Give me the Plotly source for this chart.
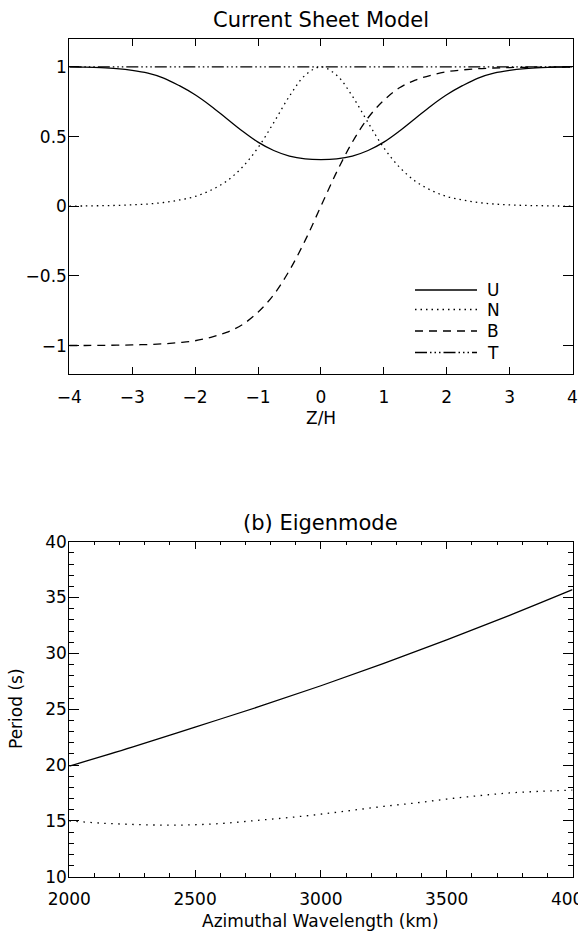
import plotly.graph_objects as go

W, H = 578, 933
FONT = "DejaVu Sans"

# ---------------- Panel (a): Current Sheet Model ----------------
z = [-4, -3.75, -3.5, -3.25, -3, -2.75, -2.5, -2.25, -2, -1.75, -1.5, -1.25, -1, -0.75, -0.5, -0.25, 0,
     0.25, 0.5, 0.75, 1, 1.25, 1.5, 1.75, 2, 2.25, 2.5, 2.75, 3, 3.25, 3.5, 3.75, 4]
U = [1.0, 0.998, 0.994, 0.987, 0.975, 0.955, 0.92, 0.865, 0.80, 0.72, 0.63, 0.54, 0.46, 0.40, 0.36, 0.34, 0.335,
     0.34, 0.36, 0.40, 0.46, 0.54, 0.63, 0.72, 0.80, 0.865, 0.92, 0.955, 0.975, 0.987, 0.994, 0.998, 1.0]
N = [0.001, 0.002, 0.004, 0.006, 0.01, 0.016, 0.027, 0.045, 0.07, 0.115, 0.18, 0.28, 0.42, 0.60, 0.79, 0.94, 1.0,
     0.94, 0.79, 0.60, 0.42, 0.28, 0.18, 0.115, 0.07, 0.045, 0.027, 0.016, 0.01, 0.006, 0.004, 0.002, 0.001]
B = [-0.999, -0.999, -0.998, -0.997, -0.995, -0.992, -0.987, -0.978, -0.965, -0.94, -0.905, -0.85, -0.76, -0.635, -0.46, -0.245, 0.0,
     0.245, 0.46, 0.635, 0.76, 0.85, 0.905, 0.94, 0.965, 0.978, 0.987, 0.992, 0.995, 0.997, 0.998, 0.999, 0.999]
T = [1.0] * len(z)
series_names = ["U", "N", "B", "T"]
xticks_a = [-4, -3, -2, -1, 0, 1, 2, 3, 4]
yticks_a = [-1, -0.5, 0, 0.5, 1]

# ---------------- Panel (b): Eigenmode ----------------
wl1 = [2000, 2250, 2500, 2750, 3000, 3250, 3500, 3750, 4000]
period1 = [19.9, 21.6, 23.4, 25.2, 27.1, 29.1, 31.2, 33.4, 35.7]
wl2 = [2000, 2125, 2250, 2375, 2500, 2625, 2750, 2875, 3000, 3125, 3250, 3375, 3500, 3625, 3750, 3875, 4000]
period2 = [15.0, 14.8, 14.68, 14.62, 14.65, 14.8, 15.05, 15.3, 15.6, 15.95, 16.3, 16.6, 16.95, 17.25, 17.5, 17.65, 17.75]

DASHES = {
    "U": "solid",
    "N": "1.5px,4px",
    "B": "8px,6px",
    "T": "12px,3px,1.5px,3px,1.5px,3px,1.5px,3px",
}
LW = 1.3

fig = go.Figure()
for name, vals in zip(series_names, [U, N, B, T]):
    fig.add_trace(go.Scatter(x=z, y=vals, mode="lines", name=name, showlegend=False,
                             line=dict(color="black", width=LW, dash=DASHES[name], shape="spline"),
                             xaxis="x", yaxis="y"))

fig.add_trace(go.Scatter(x=wl1, y=period1, mode="lines", showlegend=False,
                         line=dict(color="black", width=LW, shape="spline"),
                         xaxis="x2", yaxis="y2"))
fig.add_trace(go.Scatter(x=wl2, y=period2, mode="lines", showlegend=False,
                         line=dict(color="black", width=LW, dash="1.5px,5.5px", shape="spline"),
                         xaxis="x2", yaxis="y2"))

# pixel helpers for layout placement
def px(xp):
    return xp / W

def py(yp):
    return 1 - yp / H

XDOM = [px(69.3), px(572.5)]
axis_common = dict(showline=True, linecolor="black", linewidth=1, mirror="ticks",
                   ticks="inside", tickcolor="black", tickwidth=1, showgrid=False,
                   zeroline=False, automargin=False, ticklabeloverflow="allow",
                   tickfont=dict(family=FONT, size=17, color="black"))

fig.update_layout(
    width=W, height=H,
    margin=dict(l=0, r=0, t=0, b=0),
    paper_bgcolor="white", plot_bgcolor="white",
    font=dict(family=FONT, size=17, color="black"),
    showlegend=False,
    xaxis=dict(domain=XDOM, range=[-4, 4], tickvals=xticks_a, ticklen=7,
               ticklabelstandoff=8, anchor="y", **axis_common),
    yaxis=dict(domain=[py(373.5), py(39)], range=[-1.2, 1.2], tickvals=yticks_a,
               ticklen=10, ticklabelstandoff=-2, anchor="x", **axis_common),
    xaxis2=dict(domain=XDOM, range=[2000, 4000], dtick=500, tick0=2000, ticklen=7,
                ticklabelstandoff=7, anchor="y2",
                minor=dict(dtick=100, ticklen=3.5, ticks="inside", tickcolor="black", showgrid=False),
                **axis_common),
    yaxis2=dict(domain=[py(876.7), py(541.7)], range=[10, 40], dtick=5, tick0=10, ticklen=10,
                ticklabelstandoff=-2, anchor="x2",
                minor=dict(dtick=1, ticklen=5, ticks="inside", tickcolor="black", showgrid=False),
                **axis_common),
)

ann = [
    dict(text="Current Sheet Model", x=px(320.9), y=py(20), font=dict(size=21)),
    dict(text="Z/H", x=px(320.9), y=py(418), font=dict(size=17)),
    dict(text="(b) Eigenmode", x=px(320.9), y=py(523), font=dict(size=21)),
    dict(text="Azimuthal Wavelength (km)", x=px(320.9), y=py(921), font=dict(size=17)),
    dict(text="Period (s)", x=px(16), y=py(709), font=dict(size=17), textangle=-90),
]
for a in ann:
    fig.add_annotation(xref="paper", yref="paper", xanchor="center", yanchor="middle",
                       showarrow=False, **a)

# manual legend (line samples + labels) in the lower right of panel (a)
leg_rows = [290, 309.5, 331, 352.5]
for name, yr in zip(series_names, leg_rows):
    fig.add_shape(type="line", xref="paper", yref="paper",
                  x0=px(415), x1=px(477), y0=py(yr), y1=py(yr),
                  line=dict(color="black", width=LW, dash=DASHES[name]))
    fig.add_annotation(xref="paper", yref="paper", x=px(485), y=py(yr), text=name,
                       xanchor="left", yanchor="middle", showarrow=False,
                       font=dict(size=17))

# remove the browser's default 8px body margin so the figure sits at the window origin
fig.write_html("out.html", config={"displayModeBar": False},
               post_script="document.body.style.margin='0';")
